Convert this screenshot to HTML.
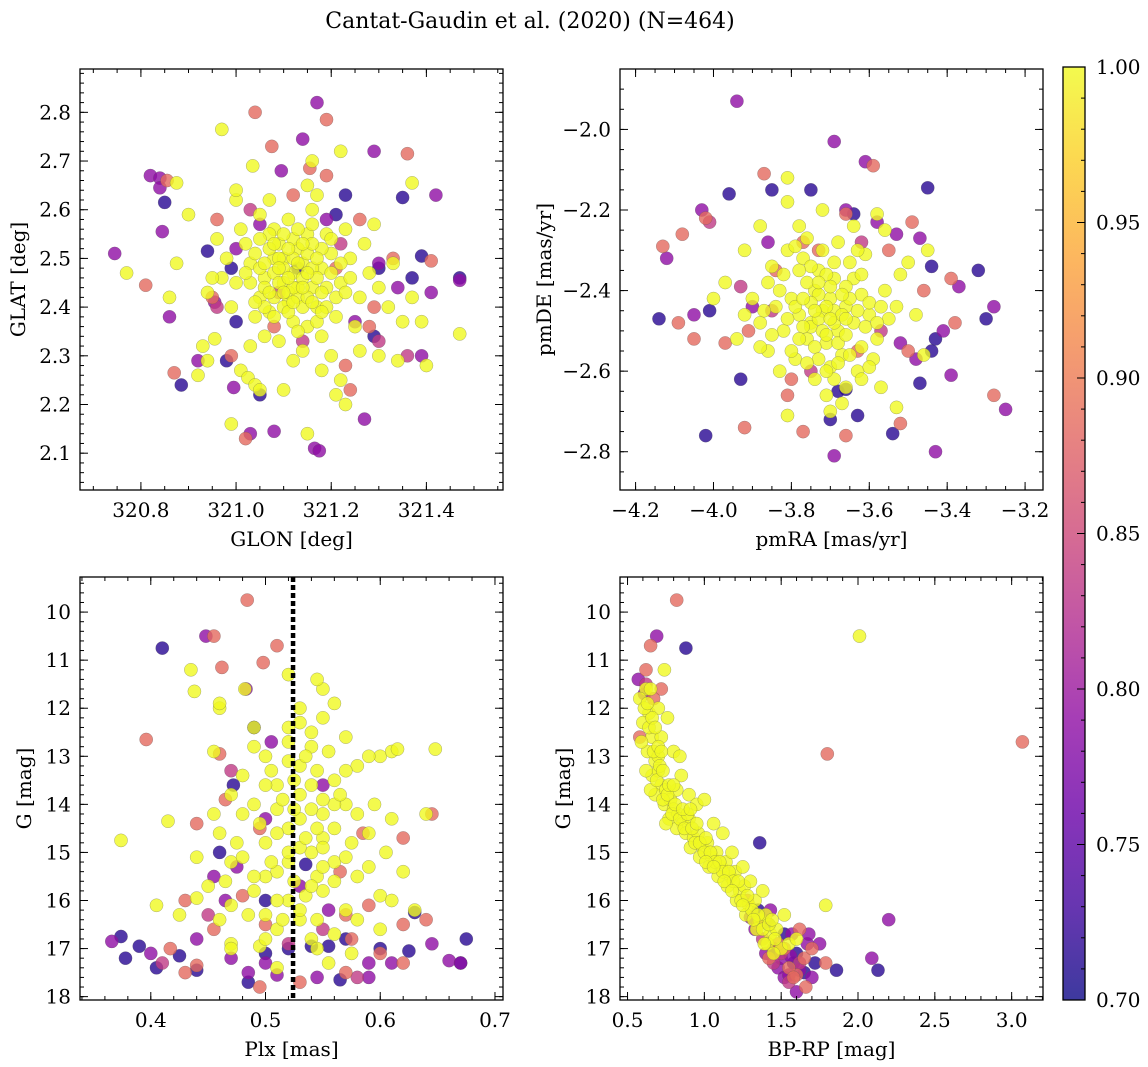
<!DOCTYPE html>
<html><head><meta charset="utf-8">
<style>
html,body{margin:0;padding:0;background:#fff;}
svg{display:block;font-family:"DejaVu Serif","Liberation Serif",serif;}
</style></head>
<body>
<svg id="fig" width="1148" height="1067" viewBox="0 0 1148 1067" xmlns="http://www.w3.org/2000/svg">
<defs>
<linearGradient id="plasmaGrad" x1="0" y1="1" x2="0" y2="0">
<stop offset="0" stop-color="#0d0887"/><stop offset="0.1" stop-color="#41049d"/><stop offset="0.2" stop-color="#6a00a8"/><stop offset="0.3" stop-color="#8f0da4"/><stop offset="0.4" stop-color="#b12a90"/><stop offset="0.5" stop-color="#cc4778"/><stop offset="0.6" stop-color="#e16462"/><stop offset="0.7" stop-color="#f2844b"/><stop offset="0.8" stop-color="#fca636"/><stop offset="0.9" stop-color="#fcce25"/><stop offset="1" stop-color="#f0f921"/>
</linearGradient>
</defs>
<text x="530" y="28" font-size="22" text-anchor="middle">Cantat-Gaudin et al. (2020) (N=464)</text>
</svg>
<script>
// ---- group probabilities (navy, purple, pink, orange, yellow) ----
const groupProbs = [0.715, 0.79, 0.835, 0.885, 1.0];
const groupNames = ['navy','purple','pink','orange','yellow'];

// ---- Panel 1: GLON / GLAT ----
const glonNavy = [[320.85,2.615],[320.885,2.24],[320.94,2.515],[320.98,2.29],[321.05,2.22],[321.00,2.37],[321.23,2.63],[321.21,2.59],[321.35,2.625],[321.37,2.46],[321.47,2.46],[321.29,2.34],[321.30,2.48],[321.39,2.505],[321.13,2.48],[320.99,2.48]];
const glonPurple = [[320.745,2.51],[320.82,2.67],[320.84,2.665],[320.84,2.645],[320.845,2.555],[320.86,2.38],[320.92,2.29],[320.955,2.41],[320.995,2.235],[321.03,2.14],[321.095,2.68],[321.08,2.145],[321.14,2.745],[321.165,2.11],[321.175,2.105],[321.17,2.82],[321.29,2.72],[321.27,2.17],[321.41,2.43],[321.42,2.63],[321.47,2.455],[321.39,2.30],[321.19,2.58],[321.25,2.37],[321.05,2.57],[321.30,2.49],[321.34,2.44],[321.00,2.52]];
const glonPink = [[321.03,2.60],[320.96,2.40],[321.14,2.33],[321.22,2.53],[321.09,2.43],[321.30,2.33],[321.36,2.30]];
const glonOrange = [[320.81,2.445],[320.855,2.66],[320.87,2.265],[320.96,2.58],[321.02,2.13],[321.04,2.80],[321.075,2.73],[321.19,2.785],[321.155,2.685],[321.19,2.67],[321.24,2.23],[321.23,2.28],[321.36,2.715],[321.41,2.495],[321.26,2.58],[321.28,2.36],[321.33,2.50],[321.08,2.36],[320.99,2.30],[321.21,2.48],[320.95,2.42],[321.12,2.63],[321.29,2.40]];
const glonYellow = [[321.12,2.47],[321.10,2.45],[321.14,2.49],[321.08,2.50],[321.16,2.44],[321.13,2.52],[321.06,2.46],[321.18,2.48],[321.11,2.41],[321.09,2.53],[321.15,2.55],[321.05,2.42],[321.20,2.51],[321.07,2.39],[321.17,2.40],[321.03,2.49],[321.22,2.45],[321.12,2.37],[321.13,2.44],[321.10,2.50],[321.02,2.53],[321.24,2.50],[321.19,2.55],[321.04,2.38],[321.15,2.36],[321.08,2.56],[321.26,2.42],[321.00,2.45],[320.98,2.50],[321.21,2.38],[321.11,2.58],[321.06,2.34],[321.28,2.47],[321.16,2.60],[321.09,2.33],[320.99,2.40],[321.23,2.56],[321.14,2.31],[321.01,2.56],[321.27,2.53],[321.18,2.34],[320.97,2.46],[321.30,2.44],[321.05,2.59],[321.12,2.29],[321.20,2.30],[321.25,2.36],[321.03,2.32],[320.96,2.54],[321.32,2.40],[321.07,2.62],[321.17,2.63],[321.22,2.25],[321.29,2.57],[321.01,2.27],[320.94,2.43],[321.35,2.37],[321.26,2.31],[321.15,2.65],[321.10,2.23],[321.33,2.49],[320.77,2.47],[320.875,2.655],[320.875,2.49],[320.86,2.42],[320.90,2.59],[320.93,2.32],[320.94,2.29],[320.95,2.46],[320.955,2.335],[320.97,2.765],[320.99,2.16],[321.0,2.62],[321.0,2.64],[321.025,2.255],[321.04,2.24],[321.035,2.69],[321.16,2.70],[321.22,2.72],[321.37,2.655],[321.40,2.28],[321.39,2.37],[321.47,2.345],[321.34,2.29],[321.21,2.22],[321.15,2.14],[321.18,2.27],[321.23,2.20],[321.05,2.23],[320.92,2.26],[321.30,2.30],[321.37,2.42]];
const glonYellowCore = [[321.10,2.48],[321.12,2.50],[321.14,2.46],[321.11,2.43],[321.08,2.47],[321.15,2.51],[321.13,2.42],[321.09,2.45],[321.16,2.48],[321.07,2.52],[321.12,2.54],[321.17,2.46],[321.06,2.44],[321.14,2.40],[321.10,2.40],[321.18,2.52],[321.05,2.48],[321.19,2.44],[321.08,2.42],[321.13,2.56],[321.16,2.53],[321.04,2.51],[321.20,2.47],[321.11,2.39],[321.07,2.55],[321.15,2.42],[321.09,2.50],[321.21,2.42],[321.03,2.45],[321.17,2.37],[321.12,2.44],[321.14,2.53],[321.06,2.40],[321.19,2.40],[321.10,2.55],[321.22,2.49],[321.02,2.47],[321.13,2.35],[321.08,2.38],[321.16,2.57],[321.18,2.43],[321.09,2.48],[321.11,2.46],[321.15,2.47],[321.13,2.49],[321.07,2.43],[321.17,2.50],[321.05,2.54],[321.20,2.54],[321.23,2.43],[321.04,2.41],[321.11,2.52],[321.14,2.44],[321.10,2.43],[321.12,2.41],[321.16,2.41],[321.18,2.39],[321.06,2.49],[321.08,2.53],[321.24,2.46]];
const glonXTicks = [320.8,321.0,321.2,321.4];
const glatYTicks = [2.1,2.2,2.3,2.4,2.5,2.6,2.7,2.8];

// ---- Panel 2: pmRA / pmDE ----
const pmNavy = [[-3.96,-2.16],[-3.85,-2.15],[-3.75,-2.15],[-3.45,-2.145],[-4.14,-2.47],[-4.01,-2.45],[-3.93,-2.62],[-4.02,-2.76],[-3.70,-2.72],[-3.63,-2.71],[-3.66,-2.645],[-3.54,-2.755],[-3.47,-2.63],[-3.43,-2.52],[-3.44,-2.55],[-3.30,-2.47],[-3.32,-2.35],[-3.44,-2.34],[-3.64,-2.21],[-3.68,-2.65]];
const pmPurple = [[-3.94,-1.93],[-3.69,-2.03],[-3.61,-2.08],[-4.03,-2.20],[-4.12,-2.32],[-4.05,-2.46],[-3.69,-2.81],[-3.43,-2.80],[-3.48,-2.57],[-3.39,-2.61],[-3.25,-2.695],[-3.28,-2.44],[-3.41,-2.50],[-3.37,-2.39],[-3.47,-2.27],[-3.53,-2.26],[-3.66,-2.20],[-3.58,-2.23],[-3.52,-2.53],[-3.86,-2.28],[-3.90,-2.44]];
const pmPink = [[-4.01,-2.23],[-3.93,-2.39],[-3.62,-2.28],[-3.85,-2.45],[-3.57,-2.50],[-3.75,-2.60]];
const pmOrange = [[-3.87,-2.11],[-3.59,-2.09],[-4.02,-2.22],[-4.08,-2.26],[-4.13,-2.29],[-4.09,-2.48],[-4.05,-2.52],[-3.97,-2.53],[-3.91,-2.50],[-3.81,-2.66],[-3.77,-2.75],[-3.92,-2.74],[-3.66,-2.76],[-3.52,-2.73],[-3.28,-2.66],[-3.38,-2.48],[-3.39,-2.37],[-3.46,-2.40],[-3.49,-2.23],[-3.50,-2.55],[-3.77,-2.28],[-3.84,-2.35],[-3.63,-2.55],[-3.55,-2.30],[-3.66,-2.21],[-3.80,-2.62],[-3.73,-2.30]];
const pmYellow = [[-3.72,-2.45],[-3.70,-2.42],[-3.75,-2.48],[-3.68,-2.50],[-3.74,-2.40],[-3.66,-2.44],[-3.78,-2.46],[-3.71,-2.53],[-3.69,-2.37],[-3.76,-2.52],[-3.64,-2.48],[-3.80,-2.42],[-3.73,-2.35],[-3.67,-2.56],[-3.62,-2.41],[-3.82,-2.50],[-3.77,-2.32],[-3.70,-2.59],[-3.60,-2.46],[-3.84,-2.44],[-3.65,-2.33],[-3.79,-2.57],[-3.58,-2.52],[-3.86,-2.38],[-3.74,-2.62],[-3.63,-2.60],[-3.81,-2.30],[-3.56,-2.40],[-3.88,-2.48],[-3.68,-2.28],[-3.76,-2.27],[-3.59,-2.57],[-3.83,-2.60],[-3.55,-2.47],[-3.90,-2.42],[-3.71,-2.66],[-3.61,-2.31],[-3.86,-2.55],[-3.66,-2.64],[-3.78,-2.24],[-3.53,-2.44],[-3.92,-2.46],[-3.72,-2.20],[-3.81,-2.18],[-3.57,-2.64],[-3.64,-2.24],[-3.85,-2.34],[-3.52,-2.36],[-3.70,-2.70],[-3.94,-2.52],[-3.75,-2.49],[-3.69,-2.45],[-3.73,-2.41],[-3.81,-2.12],[-3.88,-2.54],[-3.81,-2.71],[-3.53,-2.69],[-3.45,-2.30],[-3.56,-2.25],[-3.60,-2.59],[-4.00,-2.42],[-3.97,-2.38],[-3.62,-2.62],[-3.48,-2.46],[-3.50,-2.33],[-3.92,-2.30],[-3.67,-2.68],[-3.58,-2.21],[-3.46,-2.56],[-3.88,-2.24]];
const pmYellowCore = [[-3.71,-2.44],[-3.73,-2.47],[-3.69,-2.48],[-3.75,-2.43],[-3.67,-2.46],[-3.72,-2.50],[-3.70,-2.39],[-3.77,-2.49],[-3.65,-2.42],[-3.74,-2.54],[-3.68,-2.53],[-3.76,-2.38],[-3.63,-2.45],[-3.79,-2.44],[-3.71,-2.36],[-3.66,-2.51],[-3.78,-2.52],[-3.73,-2.57],[-3.61,-2.49],[-3.81,-2.47],[-3.69,-2.33],[-3.75,-2.34],[-3.64,-2.37],[-3.83,-2.40],[-3.68,-2.58],[-3.62,-2.54],[-3.80,-2.55],[-3.72,-2.30],[-3.66,-2.39],[-3.77,-2.42],[-3.70,-2.47],[-3.74,-2.45],[-3.67,-2.41],[-3.71,-2.51],[-3.65,-2.56],[-3.76,-2.58],[-3.60,-2.43],[-3.82,-2.36],[-3.69,-2.62],[-3.78,-2.35],[-3.63,-2.30],[-3.85,-2.51],[-3.58,-2.48],[-3.73,-2.38],[-3.71,-2.60],[-3.66,-2.47],[-3.79,-2.29],[-3.62,-2.36],[-3.87,-2.45],[-3.57,-2.44]];
const pmraXTicks = [-4.2,-4.0,-3.8,-3.6,-3.4,-3.2];
const pmdeYTicks = [-2.0,-2.2,-2.4,-2.6,-2.8];

// ---- Panel 3: Plx / G ----
const plxNavy = [[0.41,10.75],[0.374,16.75],[0.378,17.2],[0.39,16.95],[0.405,17.4],[0.425,17.15],[0.44,17.45],[0.485,17.7],[0.50,17.1],[0.52,17.0],[0.54,16.95],[0.555,16.95],[0.565,17.65],[0.60,17.0],[0.625,17.05],[0.675,16.8],[0.67,17.3],[0.49,12.4],[0.472,13.6],[0.46,15.0],[0.50,16.0],[0.535,15.25],[0.57,16.8],[0.63,16.25]];
const plxPurple = [[0.448,10.5],[0.483,11.6],[0.366,16.85],[0.40,17.1],[0.44,16.8],[0.47,17.2],[0.50,17.3],[0.485,17.5],[0.51,17.55],[0.545,17.6],[0.59,17.6],[0.59,17.3],[0.61,17.3],[0.645,16.9],[0.66,17.25],[0.67,17.3],[0.465,16.0],[0.50,14.3],[0.475,15.3],[0.555,16.2],[0.455,15.5],[0.53,15.7],[0.55,13.6],[0.505,12.7]];
const plxPink = [[0.45,16.3],[0.52,16.9],[0.58,17.6],[0.47,13.3],[0.55,16.6],[0.41,17.3]];
const plxOrange = [[0.484,9.75],[0.455,10.5],[0.51,10.7],[0.462,11.15],[0.498,11.05],[0.396,12.65],[0.46,12.95],[0.43,16.0],[0.417,17.0],[0.43,17.5],[0.44,17.35],[0.495,17.8],[0.53,17.7],[0.57,17.5],[0.60,17.1],[0.62,17.3],[0.645,14.2],[0.62,14.7],[0.62,16.5],[0.59,16.1],[0.575,16.8],[0.48,15.9],[0.455,16.6],[0.50,16.5],[0.565,15.4],[0.44,14.4],[0.465,13.9],[0.585,14.6],[0.64,16.4],[0.57,16.3],[0.495,14.5]];
const plxYellow = [[0.52,14.5],[0.53,13.8],[0.54,15.0],[0.51,15.4],[0.55,14.2],[0.50,14.8],[0.53,13.2],[0.56,15.2],[0.52,16.0],[0.54,12.8],[0.49,15.8],[0.57,14.0],[0.51,13.6],[0.55,15.8],[0.53,16.4],[0.48,14.2],[0.58,15.5],[0.50,13.0],[0.56,13.5],[0.54,16.8],[0.47,15.2],[0.59,14.6],[0.52,12.4],[0.55,12.2],[0.57,16.2],[0.46,14.6],[0.60,15.9],[0.51,16.6],[0.49,12.8],[0.56,11.9],[0.53,12.0],[0.58,13.2],[0.45,15.7],[0.61,14.3],[0.50,16.3],[0.48,13.4],[0.55,11.6],[0.62,15.4],[0.44,15.1],[0.57,12.6],[0.47,16.1],[0.52,15.2],[0.53,14.9],[0.54,14.1],[0.51,14.1],[0.55,14.7],[0.50,15.5],[0.56,14.5],[0.58,16.4],[0.46,16.4],[0.60,13.0],[0.49,14.0],[0.535,13.0],[0.545,15.5],[0.525,13.5],[0.374,14.75],[0.415,14.35],[0.405,16.1],[0.435,11.2],[0.438,11.65],[0.46,12.0],[0.46,11.9],[0.482,11.6],[0.49,12.4],[0.455,12.9],[0.425,16.3],[0.44,15.95],[0.47,16.9],[0.52,11.3],[0.545,11.4],[0.59,13.0],[0.61,12.9],[0.615,12.85],[0.648,12.85],[0.63,16.2],[0.60,16.6],[0.575,17.1],[0.545,17.0],[0.555,17.3],[0.51,17.4],[0.47,17.0],[0.495,16.95],[0.64,14.2]];
const plxYellowCore = [[0.53,14.3],[0.54,13.6],[0.52,15.0],[0.55,14.9],[0.51,14.6],[0.545,13.3],[0.525,15.6],[0.56,14.0],[0.515,13.9],[0.535,15.9],[0.55,15.3],[0.505,15.2],[0.54,12.5],[0.565,13.8],[0.52,13.1],[0.495,14.4],[0.575,14.8],[0.53,16.2],[0.49,15.5],[0.56,15.6],[0.545,16.4],[0.51,16.0],[0.58,14.2],[0.50,13.6],[0.535,14.7],[0.555,12.9],[0.52,12.7],[0.48,15.1],[0.57,15.1],[0.545,14.5],[0.53,12.3],[0.50,16.8],[0.475,14.8],[0.56,16.7],[0.59,15.3],[0.465,15.6],[0.515,16.4],[0.54,15.7],[0.55,13.9],[0.525,14.1],[0.505,13.3],[0.57,13.3],[0.485,16.3],[0.595,14.0],[0.455,14.2],[0.605,15.0],[0.61,16.0],[0.47,13.8]];
const plxXTicks = [0.4,0.5,0.6,0.7];
const magYTicks = [10,11,12,13,14,15,16,17,18];
const plxReference = [0.524];

// ---- Panel 4: BP-RP / G ----
const cmdNavy = [[0.88,10.75],[1.36,14.8],[1.86,17.45],[2.13,17.45],[1.65,17.5],[1.52,16.7],[1.42,16.5],[1.60,17.1],[1.35,16.2],[1.72,17.3],[1.47,17.05],[1.58,17.3]];
const cmdPurple = [[0.69,10.5],[0.57,11.4],[0.61,11.7],[2.20,16.4],[2.09,17.2],[1.48,17.4],[1.52,17.6],[1.55,17.55],[1.60,17.9],[1.62,17.45],[1.50,17.2],[1.45,17.0],[1.40,17.1],[1.33,16.6],[1.38,16.4],[1.67,16.9],[1.56,17.15],[1.70,17.6],[1.68,16.7],[1.75,16.9],[1.43,16.2],[1.30,16.35],[1.57,16.7]];
const cmdPink = [[1.45,17.3],[1.55,17.7],[1.50,17.1],[0.62,11.5],[1.38,16.8],[1.62,17.3]];
const cmdOrange = [[0.82,9.75],[0.65,10.7],[0.62,11.2],[0.72,11.6],[0.58,12.6],[0.67,11.8],[3.07,12.7],[1.80,12.95],[1.79,17.3],[1.66,17.8],[1.60,17.55],[1.65,17.2],[1.55,17.4],[1.52,17.0],[1.62,16.6],[1.48,16.9],[1.35,16.5],[1.28,16.0],[1.70,17.0],[1.42,17.2],[1.58,17.6]];
const cmdYellow = [[0.62,11.6],[0.64,12.1],[0.60,12.3],[0.66,12.6],[0.63,12.9],[0.68,13.1],[0.66,13.4],[0.70,13.3],[0.72,13.6],[0.68,13.8],[0.75,13.7],[0.74,14.0],[0.78,13.9],[0.80,14.1],[0.77,14.3],[0.83,14.2],[0.86,14.4],[0.82,14.5],[0.90,14.3],[0.88,14.6],[0.93,14.7],[0.96,14.6],[0.91,14.9],[0.99,14.9],[1.02,14.8],[0.97,15.1],[1.05,15.1],[1.08,15.0],[1.03,15.3],[1.11,15.3],[1.14,15.2],[1.09,15.5],[1.17,15.5],[1.20,15.4],[1.15,15.7],[1.23,15.8],[1.26,15.7],[1.21,16.0],[1.29,16.1],[1.33,16.0],[1.27,16.3],[1.36,16.4],[1.40,16.3],[1.34,16.6],[1.43,16.7],[1.47,16.6],[1.41,16.9],[1.50,17.0],[1.45,17.1],[1.55,16.9],[0.58,11.8],[0.65,11.6],[0.70,12.0],[0.76,12.2],[0.72,12.6],[0.80,12.9],[0.85,13.4],[0.90,13.8],[0.95,14.0],[1.00,13.9],[0.84,13.0],[0.62,13.3],[0.65,13.7],[0.75,14.4],[1.79,16.1],[2.01,10.5],[1.12,14.6],[1.25,15.3],[1.3,15.6],[1.38,15.8],[1.52,16.3],[1.6,16.8],[0.59,12.7],[0.7,13.0],[0.82,13.7],[1.06,14.4],[1.18,15.0],[0.74,11.2]];
const cmdYellowCore = [[0.64,12.4],[0.67,12.9],[0.69,13.5],[0.71,13.2],[0.73,13.9],[0.76,13.8],[0.79,14.2],[0.81,14.0],[0.84,14.3],[0.87,14.5],[0.89,14.2],[0.92,14.5],[0.94,14.8],[0.97,14.8],[1.00,15.0],[1.01,14.7],[1.04,15.0],[1.07,15.2],[1.10,15.2],[1.12,15.4],[1.16,15.4],[1.19,15.6],[1.22,15.6],[1.24,16.0],[1.28,15.9],[1.31,16.2],[1.35,16.3],[1.38,16.6],[1.42,16.5],[1.46,16.8],[0.66,12.2],[0.70,12.8],[0.73,13.3],[0.77,13.6],[0.80,13.6],[0.86,14.1],[0.91,14.1],[0.95,14.4],[1.01,15.2],[1.06,15.3],[1.13,15.6],[1.18,15.8],[1.25,16.1],[1.32,16.4],[1.39,16.9],[1.44,16.4],[0.61,12.0],[0.63,11.9],[0.68,12.4],[0.72,12.9]];
const cmdXTicks = [0.5,1.0,1.5,2.0,2.5,3.0];

// ---- Colorbar ----
const cbarTicks = [0.70,0.75,0.80,0.85,0.90,0.95,1.00];

// ================= drawing =================
const NS='http://www.w3.org/2000/svg';
const svg=document.getElementById('fig');
function mk(tag,attrs,parent){const e=document.createElementNS(NS,tag);for(const k in attrs)e.setAttribute(k,attrs[k]);(parent||svg).appendChild(e);return e;}
const stops=[[0,[13,8,135]],[0.1,[65,4,157]],[0.2,[106,0,168]],[0.3,[143,13,164]],[0.4,[177,42,144]],[0.5,[204,71,120]],[0.6,[225,100,98]],[0.7,[242,132,75]],[0.8,[252,166,54]],[0.9,[252,206,37]],[1,[240,249,33]]];
function plasma(p){let t=(p-0.7)/0.3;t=Math.max(0,Math.min(1,t));for(let i=1;i<stops.length;i++){if(t<=stops[i][0]){const a=stops[i-1],b=stops[i];const f=(t-a[0])/(b[0]-a[0]);const c=a[1].map((v,j)=>Math.round(v+(b[1][j]-v)*f));return 'rgb('+c.join(',')+')';}}return 'rgb(240,249,33)';}
function lin(d0,d1,r0,r1){return v=>r0+(v-d0)*(r1-r0)/(d1-d0);}
function fmt(v,dec){const s=Math.abs(v).toFixed(dec);return (v<0?'\u2212':'')+s;}
const FS=20;

function panel(cfg){
  const g=mk('g',{});
  
  
  const sx=lin(cfg.xd[0],cfg.xd[1],cfg.L,cfg.R);
  const sy=lin(cfg.yd[0],cfg.yd[1],cfg.B,cfg.T);
  const clipId='clip-'+cfg.name;
  const cp=mk('clipPath',{id:clipId},g);
  mk('rect',{x:cfg.L,y:cfg.T,width:cfg.R-cfg.L,height:cfg.B-cfg.T},cp);
  const pts=mk('g',{'clip-path':'url(#'+clipId+')'},g);
  
  
  cfg.groups.forEach((arr,gi)=>{
    const col=plasma(groupProbs[gi]);
    arr.forEach(d=>{
      const c=mk('circle',{cx:sx(d[0]).toFixed(1),cy:sy(d[1]).toFixed(1),r:6.6,fill:col,'fill-opacity':0.8,stroke:'#555','stroke-width':0.4,'stroke-opacity':0.6},pts);
      
      
    });
  });
  if(cfg.vline){cfg.vline.forEach(v=>{
    const l=mk('line',{x1:sx(v),x2:sx(v),y1:cfg.T,y2:cfg.B,stroke:'#000','stroke-width':4.5,'stroke-dasharray':'5,3'},g);
    
    
  });}
  const tk=mk('g',{stroke:'#000','stroke-width':1},g);
  function xt(v,len){const x=sx(v);if(x<cfg.L-0.5||x>cfg.R+0.5)return;mk('line',{x1:x,x2:x,y1:cfg.B,y2:cfg.B-len},tk);mk('line',{x1:x,x2:x,y1:cfg.T,y2:cfg.T+len},tk);}
  function yt(v,len){const y=sy(v);if(y<cfg.T-0.5||y>cfg.B+0.5)return;mk('line',{x1:cfg.L,x2:cfg.L+len,y1:y,y2:y},tk);mk('line',{x1:cfg.R,x2:cfg.R-len,y1:y,y2:y},tk);}
  const xlo=Math.min(cfg.xd[0],cfg.xd[1]),xhi=Math.max(cfg.xd[0],cfg.xd[1]);
  for(let v=Math.ceil(xlo/cfg.xminor)*cfg.xminor;v<=xhi;v+=cfg.xminor)xt(v,4);
  const ylo=Math.min(cfg.yd[0],cfg.yd[1]),yhi=Math.max(cfg.yd[0],cfg.yd[1]);
  for(let v=Math.ceil(ylo/cfg.yminor)*cfg.yminor;v<=yhi;v+=cfg.yminor)yt(v,4);
  cfg.xticks.forEach(v=>{xt(v,8);
    const t=mk('text',{x:sx(v),y:cfg.B+27,'font-size':FS,'text-anchor':'middle'},g);t.textContent=fmt(v,cfg.xdec);
    });
  cfg.yticks.forEach(v=>{yt(v,8);
    const t=mk('text',{x:cfg.L-9,y:sy(v)+7,'font-size':FS,'text-anchor':'end'},g);t.textContent=fmt(v,cfg.ydec);
    });
  mk('rect',{x:cfg.L,y:cfg.T,width:cfg.R-cfg.L,height:cfg.B-cfg.T,fill:'none',stroke:'#000','stroke-width':1.3},g);
  const xl=mk('text',{x:(cfg.L+cfg.R)/2,y:cfg.B+56,'font-size':FS,'text-anchor':'middle'},g);xl.textContent=cfg.xlabel;
  
  const ylx=cfg.ylx,yly=(cfg.T+cfg.B)/2;
  const yl=mk('text',{x:ylx,y:yly,'font-size':FS,'text-anchor':'middle',transform:'rotate(-90 '+ylx+' '+yly+')'},g);yl.textContent=cfg.ylabel;
  
}

panel({name:'glon-glat-panel',L:80,R:503,T:69,B:490,xd:[320.672,321.561],yd:[2.0244,2.889],xticks:glonXTicks,yticks:glatYTicks,xdec:1,ydec:1,xminor:0.05,yminor:0.02,xlabel:'GLON [deg]',ylabel:'GLAT [deg]',ylx:25,groups:[glonNavy,glonPurple,glonPink,glonOrange,glonYellow.concat(glonYellowCore)]});
panel({name:'proper-motion-panel',L:620,R:1043,T:69,B:490,xd:[-4.240,-3.154],yd:[-2.895,-1.850],xticks:pmraXTicks,yticks:pmdeYTicks,xdec:1,ydec:1,xminor:0.05,yminor:0.05,xlabel:'pmRA [mas/yr]',ylabel:'pmDE [mas/yr]',ylx:551,groups:[pmNavy,pmPurple,pmPink,pmOrange,pmYellow.concat(pmYellowCore)]});
panel({name:'parallax-mag-panel',L:80,R:503,T:577,B:1000,xd:[0.3383,0.707],yd:[18.07,9.27],xticks:plxXTicks,yticks:magYTicks,xdec:1,ydec:0,xminor:0.02,yminor:0.2,xlabel:'Plx [mas]',ylabel:'G [mag]',ylx:31,vline:plxReference,groups:[plxNavy,plxPurple,plxPink,plxOrange,plxYellow.concat(plxYellowCore)]});
panel({name:'cmd-panel',L:620,R:1043,T:577,B:1000,xd:[0.451,3.204],yd:[18.07,9.27],xticks:cmdXTicks,yticks:magYTicks,xdec:1,ydec:0,xminor:0.1,yminor:0.2,xlabel:'BP-RP [mag]',ylabel:'G [mag]',ylx:570,groups:[cmdNavy,cmdPurple,cmdPink,cmdOrange,cmdYellow.concat(cmdYellowCore)]});

(function(){
  const g=mk('g',{});
  
  
  const L=1063,R=1085,T=67,B=1000;
  const cy=lin(0.70,1.00,B,T);
  mk('rect',{x:L,y:T,width:R-L,height:B-T,fill:'url(#plasmaGrad)','fill-opacity':0.8},g);
  for(let v=0.70;v<=1.0001;v+=0.01){mk('line',{x1:R,x2:R-4,y1:cy(v),y2:cy(v),stroke:'#000','stroke-width':1},g);}
  cbarTicks.forEach(v=>{
    mk('line',{x1:R,x2:R-8,y1:cy(v),y2:cy(v),stroke:'#000','stroke-width':1},g);
    const t=mk('text',{x:R+11,y:cy(v)+7,'font-size':FS},g);t.textContent=v.toFixed(2);
    
  });
  mk('rect',{x:L,y:T,width:R-L,height:B-T,fill:'none',stroke:'#000','stroke-width':1.3},g);
})();
</script>
</body></html>
